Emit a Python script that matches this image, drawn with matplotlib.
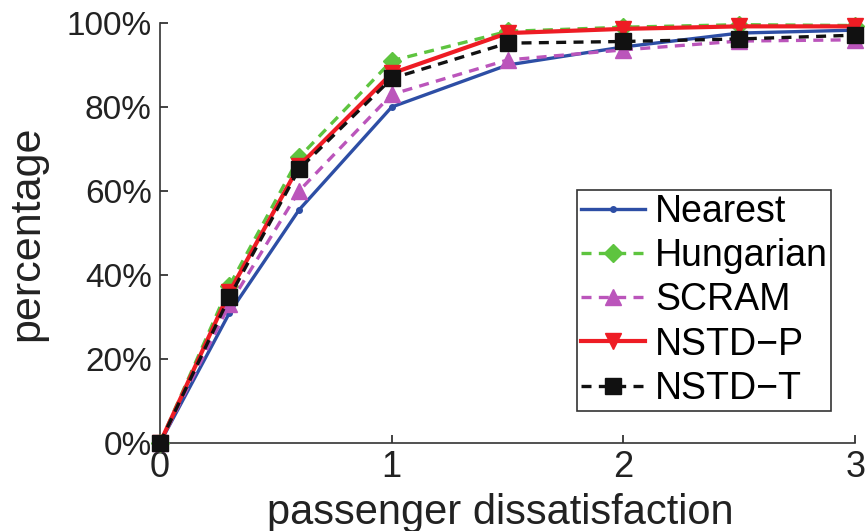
import numpy as np
import matplotlib.pyplot as plt
from matplotlib.ticker import FuncFormatter

plt.rcParams["font.family"] = ["Liberation Sans", "DejaVu Sans"]

dissatisfaction = [0, 0.3, 0.6, 1, 1.5, 2, 2.5, 3]
nearest = [0, 31, 55.5, 80, 90, 94.3, 97.6, 98.3]
hungarian = [0, 37.5, 68, 91, 98, 99, 99.6, 99.4]
scram = [0, 33, 60, 83, 91.2, 93.6, 95.7, 96]
nstd_p = [0, 36, 66, 88, 97.6, 98.6, 99.2, 99.2]
nstd_t = [0, 34.8, 65.2, 86.8, 95.2, 95.6, 96.2, 97.1]

fig = plt.figure(figsize=(8.68, 5.31), dpi=100)
ax = fig.add_axes([0.1843, 0.1657, 0.801, 0.791])

dash = (3, 2.2)
ax.plot(dissatisfaction, nearest, "-", color="#2d4ea5", lw=2.4,
        marker="o", ms=4, label="Nearest", clip_on=False, zorder=3)
ax.plot(dissatisfaction, hungarian, "--", color="#5ec43f", lw=2.4, dashes=dash,
        marker="D", ms=9, label="Hungarian", clip_on=False, zorder=3)
ax.plot(dissatisfaction, scram, "--", color="#bb55bb", lw=2.4, dashes=dash,
        marker="^", ms=11, label="SCRAM", clip_on=False, zorder=3)
ax.plot(dissatisfaction, nstd_p, "-", color="#ee1c24", lw=3.0,
        marker="v", ms=11, label="NSTD\u2212P", clip_on=False, zorder=4)
ax.plot(dissatisfaction, nstd_t, "--", color="#111111", lw=2.4, dashes=dash,
        marker="s", ms=11.5, label="NSTD\u2212T", clip_on=False, zorder=5)

ax.set_xlim(0, 3)
ax.set_ylim(0, 100)
ax.set_xticks([0, 1, 2, 3])
ax.set_yticks(np.arange(0, 101, 20))
ax.yaxis.set_major_formatter(FuncFormatter(lambda v, p: "%d%%" % v))
ax.tick_params(direction="in", length=6, width=1.2, colors="#222222")
ax.tick_params(axis="y", labelsize=24, pad=6)
ax.tick_params(axis="x", labelsize=26, pad=5)
ax.spines["top"].set_visible(False)
ax.spines["right"].set_visible(False)
for s in ["left", "bottom"]:
    ax.spines[s].set_linewidth(1.2)
    ax.spines[s].set_color("#333333")

ax.set_xlabel("passenger dissatisfaction", fontsize=30, color="#222222")
ax.set_ylabel("percentage", fontsize=31, color="#222222")
ax.xaxis.set_label_coords(0.49, -0.118)
ax.yaxis.set_label_coords(-0.162, 0.5)

leg = ax.legend(loc="upper left", bbox_to_anchor=(0.665, 0.642),
                bbox_transform=fig.transFigure, fontsize=27,
                handlelength=1.7, handletextpad=0.27, labelspacing=0.22,
                borderpad=0.1, borderaxespad=0, fancybox=False, framealpha=1)
leg.get_frame().set_edgecolor("#333333")
leg.get_frame().set_linewidth(1.2)

fig.savefig("out.png", dpi=100)
